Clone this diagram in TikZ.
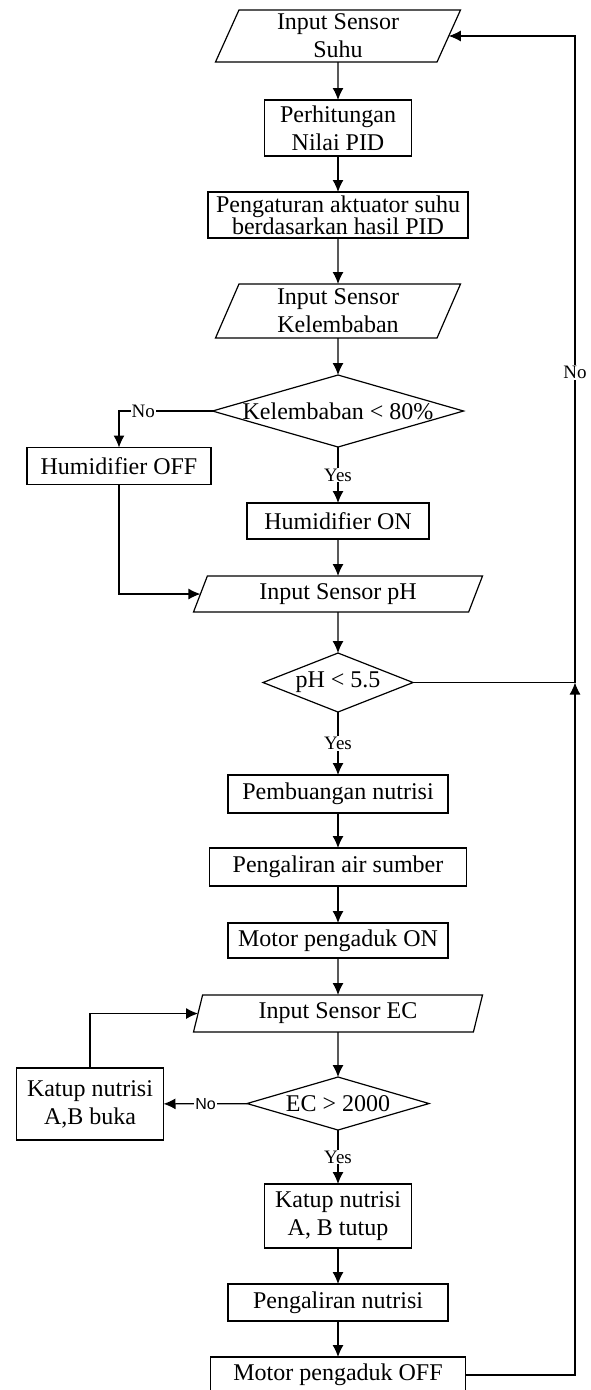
\documentclass[tikz,border=0pt]{standalone}
\usepackage{fontspec}
\setmainfont{Liberation Serif}
\newfontfamily\arialfont{Liberation Sans}
\usepackage{tikz}
\usetikzlibrary{arrows.meta, positioning, shapes.geometric}

\tikzset{
  proc/.style={draw, inner sep=2pt, outer sep=0pt, align=center, font=\fontsize{24}{28}\selectfont},
  io/.style={draw, trapezium, trapezium left angle=64, trapezium right angle=116,
    trapezium stretches body, inner sep=2pt, outer sep=0pt, align=center, font=\fontsize{24}{28}\selectfont},
  cond/.style={draw, diamond, aspect=3, inner sep=0pt, outer sep=0pt, font=\fontsize{24}{28}\selectfont},
  lbl/.style={fill=white, inner sep=1pt, font=\fontsize{19}{22}\selectfont}
}

\begin{document}
\begin{tikzpicture}[x=1pt, y=-1pt, >={Latex[length=12pt, width=11pt]}, line width=1.2pt]
\useasboundingbox (0,0) rectangle (590,1390);

\node[io, minimum width=245pt, minimum height=52pt] (suhu) at (338,36) {Input Sensor\\Suhu};
\node[proc, below=38pt of suhu, minimum width=147pt, minimum height=56pt] (pid) {Perhitungan\\Nilai PID};
\node[proc, below=36pt of pid, minimum width=260pt, minimum height=46pt, font=\fontsize{24}{22}\selectfont] (atur) {Pengaturan aktuator suhu\\berdasarkan hasil PID};
\node[io, below=46pt of atur, minimum width=245pt, minimum height=54pt] (lembab) {Input Sensor\\Kelembaban};
\node[cond, below=37pt of lembab, minimum width=251pt, minimum height=72pt] (dlembab) {\makebox[0pt]{Kelembaban < 80\%}};
\node[proc, minimum width=184pt, minimum height=37pt] (hoff) at (119,466) {Humidifier OFF};
\node[proc, below=56pt of dlembab, minimum width=182pt, minimum height=36pt] (hon) {Humidifier ON};
\node[io, below=37pt of hon, minimum width=289pt, minimum height=36pt, trapezium left angle=61, trapezium right angle=119] (ph) {Input Sensor pH};
\node[cond, below=41pt of ph, minimum width=150pt, minimum height=59pt] (dph) {\makebox[0pt]{pH < 5.5}};
\node[proc, below=63pt of dph, minimum width=220pt, minimum height=38pt] (buang) {Pembuangan nutrisi};
\node[proc, below=35pt of buang, minimum width=257pt, minimum height=38pt] (alir) {Pengaliran air sumber};
\node[proc, below=37pt of alir, minimum width=220pt, minimum height=35pt] (motoron) {Motor pengaduk ON};
\node[io, below=37pt of motoron, minimum width=289pt, minimum height=37pt, trapezium left angle=70, trapezium right angle=110] (ec) {Input Sensor EC};
\node[cond, below=45pt of ec, minimum width=182pt, minimum height=53pt] (dec) {\makebox[0pt]{EC > 2000}};
\node[proc, minimum width=147pt, minimum height=72pt] (buka) at (90,1104) {Katup nutrisi\\A,B buka};
\node[proc, below=54pt of dec, minimum width=147pt, minimum height=64pt] (tutup) {Katup nutrisi\\A, B tutup};
\node[proc, below=36pt of tutup, minimum width=220pt, minimum height=37pt] (nutrisi) {Pengaliran nutrisi};
\node[proc, below=36pt of nutrisi, minimum width=255pt, minimum height=36pt] (motoroff) {Motor pengaduk OFF};
\coordinate (join) at (575,0 |- dph.east);

\draw[->] (suhu) -- (pid);
\draw[->] (pid) -- (atur);
\draw[->] (atur) -- (lembab);
\draw[->] (lembab) -- (dlembab);
\draw[->] (dlembab.west) -| node[lbl, pos=0.37] {No} (hoff.north);
\draw[->] (dlembab) -- node[lbl] {Yes} (hon);
\draw[->] (hon) -- (ph);
\draw[->] (hoff.south) |- (ph.west);
\draw[->] (ph) -- (dph);
\draw[->] (dph) -- node[lbl] {Yes} (buang);
\draw (dph.east) -- (join);
\draw[->] (join) |- node[lbl, pos=0.24] {No} (suhu.east);
\draw[->] (buang) -- (alir);
\draw[->] (alir) -- (motoron);
\draw[->] (motoron) -- (ec);
\draw[->] (ec) -- (dec);
\draw[->] (dec) -- node[lbl, font=\arialfont\fontsize{16}{19}\selectfont] {No} (buka);
\draw[->] (buka.north) |- (ec.west);
\draw[->] (dec) -- node[lbl] {Yes} (tutup);
\draw[->] (tutup) -- (nutrisi);
\draw[->] (nutrisi) -- (motoroff);
\draw[->] (motoroff.east) -| (join);
\end{tikzpicture}
\end{document}
